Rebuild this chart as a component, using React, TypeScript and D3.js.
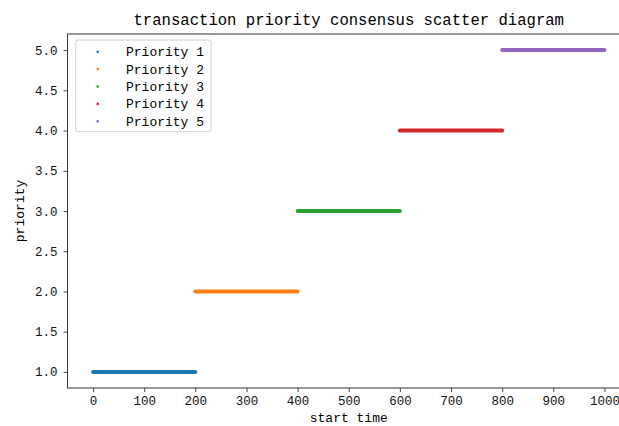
import React, { useRef, useEffect } from 'react';
import * as d3 from 'd3';

// chart data
const seriesNames = ['Priority 1', 'Priority 2', 'Priority 3', 'Priority 4', 'Priority 5'];
const priorityValues = [1, 2, 3, 4, 5];
const timeStart = [0, 200, 400, 600, 800];
const timeEnd = [200, 400, 600, 800, 1000];
const colors = ['#1f77b4', '#ff7f0e', '#2ca02c', '#d62728', '#9467bd'];
const xTicks = [0, 100, 200, 300, 400, 500, 600, 700, 800, 900, 1000];
const yTicks = [1.0, 1.5, 2.0, 2.5, 3.0, 3.5, 4.0, 4.5, 5.0];

const W = 619;
const H = 426;
const FONT = '"Liberation Mono", "DejaVu Sans Mono", monospace';

const App = () => {
  const ref = useRef<SVGSVGElement>(null);

  useEffect(() => {
    const svg = d3.select(ref.current);
    svg.selectAll('*').remove(); // 清除之前的绘图

    const left = 67.5, right = 630, top = 34, bottom = 388;
    const x = d3.scaleLinear().domain([-50, 1050]).range([left, right]);
    const y = d3.scaleLinear().domain([0.8, 5.2]).range([bottom, top]);

    // 数据：每个优先级一条由密集散点组成的带
    const line = d3.line<[number, number]>().x(d => x(d[0])).y(d => y(d[1]));
    seriesNames.forEach((name, i) => {
      svg.append('path')
        .attr('d', line([[timeStart[i], priorityValues[i]], [timeEnd[i], priorityValues[i]]]))
        .attr('stroke', colors[i])
        .attr('stroke-width', 4)
        .attr('stroke-linecap', 'round')
        .attr('fill', 'none');
    });

    // axes
    const gx = svg.append('g').attr('transform', `translate(0,${bottom})`)
      .call(d3.axisBottom(x).tickValues(xTicks).tickSize(4).tickPadding(4).tickFormat(d3.format('d')));
    const gy = svg.append('g').attr('transform', `translate(${left},0)`)
      .call(d3.axisLeft(y).tickValues(yTicks).tickSize(4).tickPadding(6).tickFormat(d3.format('.1f')));
    [gx, gy].forEach(g => {
      g.select('.domain').remove();
      g.selectAll('line').attr('stroke', '#333').attr('stroke-width', 0.9);
      g.selectAll('text').attr('font-family', FONT).attr('font-size', 12.5).attr('fill', '#111');
    });

    // spines
    svg.append('rect')
      .attr('x', left).attr('y', top)
      .attr('width', right - left).attr('height', bottom - top)
      .attr('fill', 'none').attr('stroke', '#333').attr('stroke-width', 1);

    // title and labels
    svg.append('text')
      .attr('x', (left + right) / 2).attr('y', 25)
      .attr('text-anchor', 'middle')
      .attr('font-family', FONT).attr('font-size', 15.6)
      .text('transaction priority consensus scatter diagram');
    svg.append('text')
      .attr('x', (left + right) / 2).attr('y', 422)
      .attr('text-anchor', 'middle')
      .attr('font-family', FONT).attr('font-size', 13)
      .text('start time');
    svg.append('text')
      .attr('transform', `translate(24,${(top + bottom) / 2}) rotate(-90)`)
      .attr('text-anchor', 'middle')
      .attr('font-family', FONT).attr('font-size', 13)
      .text('priority');

    // legend
    const lg = svg.append('g');
    lg.append('rect')
      .attr('x', 75.7).attr('y', 40).attr('width', 135.3).attr('height', 91.7)
      .attr('rx', 2.5)
      .attr('fill', 'white').attr('fill-opacity', 0.8)
      .attr('stroke', '#d0d0d0');
    seriesNames.forEach((name, i) => {
      const cy = 51.7 + i * 17.4;
      lg.append('circle').attr('cx', 97.7).attr('cy', cy).attr('r', 1.3).attr('fill', colors[i]);
      lg.append('text')
        .attr('x', 126).attr('y', cy + 4.5)
        .attr('font-family', FONT).attr('font-size', 13)
        .text(name);
    });
  }, []);

  return (
    <svg ref={ref} width={W} height={H}
      style={{ position: 'absolute', left: 0, top: 0, background: 'white' }} />
  );
};

export default App;
